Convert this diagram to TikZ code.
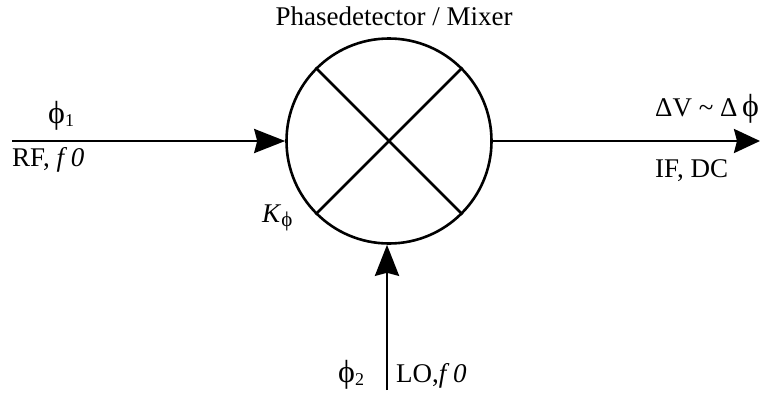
\documentclass[tikz,border=0pt]{standalone}
\usepackage{fontspec}
\setmainfont{Liberation Serif}
\usetikzlibrary{arrows.meta}
\newcommand{\sub}[1]{\raisebox{-3pt}{\fontsize{18}{18}\selectfont #1}}
\newcommand{\ph}{{\fontsize{32}{32}\selectfont ϕ}}
\newcommand{\phsmall}{{\fontsize{21}{21}\selectfont ϕ}}
\begin{document}
\begin{tikzpicture}[x=1pt,y=-1pt,
  lbl/.style={inner sep=0pt, font=\fontsize{27}{30}\selectfont},
  sig/.style={line width=2.8pt, -{Stealth[length=31pt,width=24pt,inset=3pt]}},
  mixer/.style={circle, draw, line width=2.6pt, minimum size=205pt, inner sep=0pt},
]
\useasboundingbox (0,0) rectangle (762,399);
\node[mixer] (mix) at (389,141) {};
\draw[line width=2.6pt] (mix.45) -- (mix.225) (mix.135) -- (mix.-45);
\coordinate (inL) at (12,141);
\coordinate (outR) at (760,141);
\coordinate (inB) at (387,390);
\draw[sig] (inL) -- (mix.west);
\draw[line width=2.8pt, -{Stealth[length=26pt,width=24pt,inset=3pt]}] (mix.east) -- (outR);
\draw[sig] (inB) -- (inB |- mix.south);
\node[lbl, anchor=base] (title) at (394,25) {Phasedetector / Mixer};
\node[lbl, anchor=base west] (phi1) at (48,123) {\ph\sub{1}};
\node[lbl, anchor=base west] (rf) at (12,166) {RF, \textit{f 0}};
\node[lbl, anchor=base west] (kphi) at (262,222) {\textit{K}\raisebox{-4pt}{\phsmall}};
\node[lbl, anchor=base west] (dv) at (655,116) {ΔV \symbol{"7E} Δ\,\ph};
\node[lbl, anchor=base west] (ifdc) at (655,177) {IF, DC};
\node[lbl, anchor=base west] (phi2) at (338,382) {\ph\sub{2}};
\node[lbl, anchor=base west] (lo) at (396,382) {LO,\textit{f 0}};
\end{tikzpicture}
\end{document}
